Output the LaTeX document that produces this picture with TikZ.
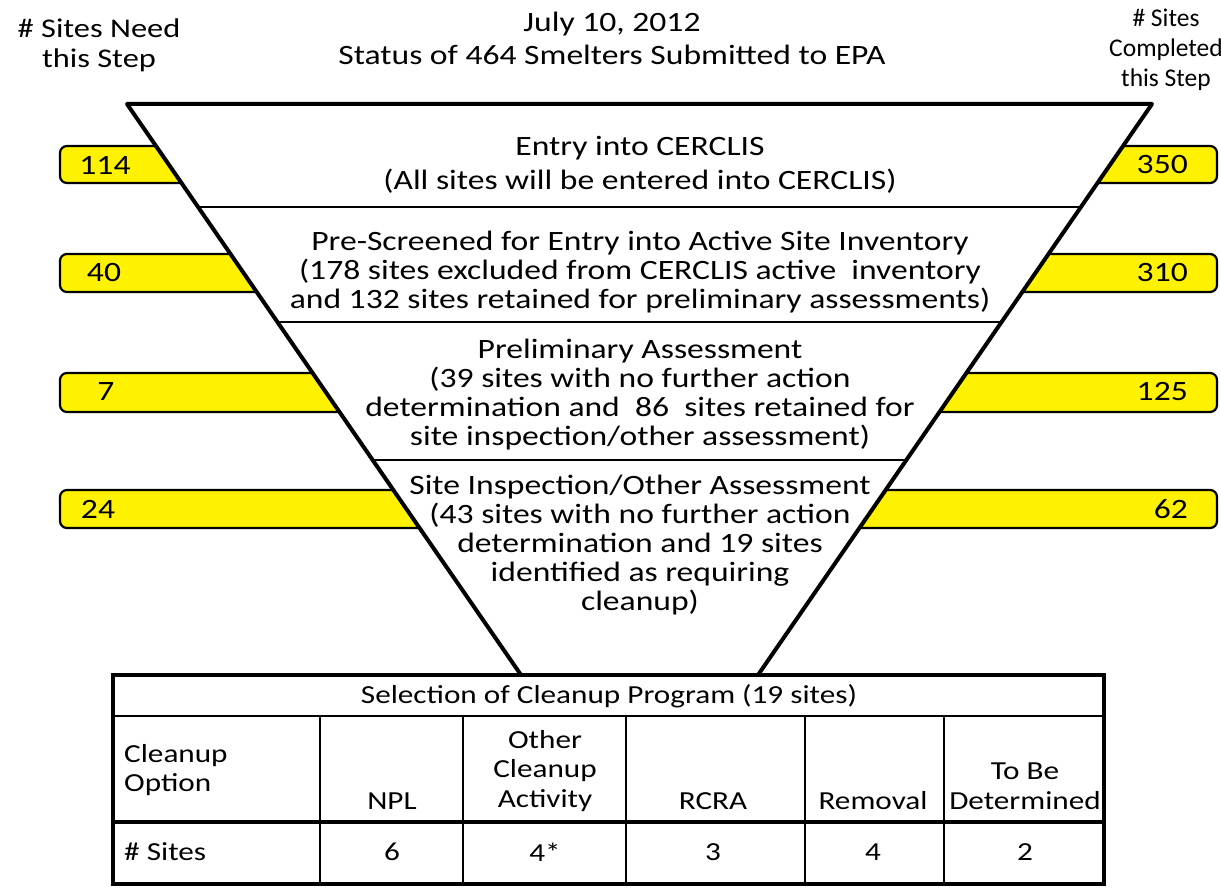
\documentclass[tikz,border=0pt]{standalone}
\usepackage{fontspec}
\setmainfont{Carlito}[FakeStretch=1.2]
\newfontfamily\plainf{Carlito}
\usetikzlibrary{calc}
\begin{document}
\begin{tikzpicture}[x=1pt,y=-1pt,
  txt/.style={inner sep=0pt,align=center,font=\fontsize{28}{29}\selectfont},
  ttxt/.style={inner sep=0pt,align=center,font=\fontsize{26}{29.5}\selectfont},
  num/.style={inner sep=0pt,font=\fontsize{28}{30}\selectfont},
  bar/.style={fill=yellow,draw=black,line width=2.2pt,rounded corners=7pt},
  funnel/.style={line width=4pt,line join=round},
  divider/.style={line width=2.2pt},
  tline/.style={line width=2.2pt},
  tthick/.style={line width=3.5pt}]
\useasboundingbox (0,0) rectangle (1221,888);
% yellow bars
\foreach \ya/\yb in {146/183,254/292,373/412,490/528}{
  \draw[bar] (640,\ya) -- (60,\ya) -- (60,\yb) -- (640,\yb);
  \draw[bar] (640,\ya) -- (1217,\ya) -- (1217,\yb) -- (640,\yb);
}
% funnel
\coordinate (TL) at (127,104);
\coordinate (TR) at (1152,104);
\coordinate (BL) at (521,675);
\coordinate (BR) at (758,675);
\fill[white] (TL) -- (TR) -- (BR) -- (BL) -- cycle;
\draw[funnel] (BL) -- (TL) -- (TR) -- (BR);
\foreach \t in {0.1804,0.3818,0.6235}{
  \draw[divider] ($(TL)!\t!(BL)$) -- ($(TR)!\t!(BR)$);
}
% titles
\node[txt,font=\fontsize{28}{33}\selectfont] (title) at (612,38) {July 10, 2012\\Status of 464 Smelters Submitted to EPA};
\node[txt,font=\fontsize{27}{30}\selectfont] (need) at (99,45) {\# Sites Need\\this Step};
\node[txt,font=\plainf\fontsize{25.5}{30}\selectfont] (done) at (1166,50) {\# Sites\\Completed\\this Step};
% funnel texts
\node[txt,font=\fontsize{28}{34}\selectfont] (s1) at (640,165) {Entry into CERCLIS\\(All sites will be entered into CERCLIS)};
\node[txt] (s2) at (640,272) {Pre-Screened for Entry into Active Site Inventory\\(178 sites excluded from CERCLIS active\ \ inventory\\and 132 sites retained for preliminary assessments)};
\node[txt] (s3) at (640,395) {Preliminary Assessment\\(39 sites with no further action\\determination and\ \ 86\ \ sites retained for\\site inspection/other assessment)};
\node[txt] (s4) at (640,545) {Site Inspection/Other Assessment\\(43 sites with no further action\\determination and 19 sites\\identified as requiring\\cleanup)};
% numbers
\node[num] (n1l) at (105,165) {114};
\node[num] (n2l) at (104,273) {40};
\node[num] (n3l) at (106,392) {7};
\node[num] (n4l) at (98,509) {24};
\node[num,anchor=east] (n1r) at (1188,165) {350};
\node[num,anchor=east] (n2r) at (1188,273) {310};
\node[num,anchor=east] (n3r) at (1188,392) {125};
\node[num,anchor=east] (n4r) at (1188,509) {62};
% table
\draw[tthick] (113,675) rectangle (1104,884);
\draw[tline] (113,716) -- (1104,716);
\draw[tthick] (113,822) -- (1104,822);
\foreach \x in {320,463,626,805,944}{
  \draw[tline] (\x,716) -- (\x,884);
}
\node[ttxt] (hdr) at (609,696) {Selection of Cleanup Program (19 sites)};
\node[ttxt,anchor=west,align=left] (opt) at (124,770) {Cleanup\\Option};
\node[ttxt] (npl) at (392,801) {NPL};
\node[ttxt] (oca) at (545,771) {Other\\Cleanup\\Activity};
\node[ttxt] (rcra) at (713,801) {RCRA};
\node[ttxt] (rem) at (873,801) {Removal};
\node[ttxt] (tbd) at (1025,786) {To Be\\Determined};
\node[ttxt,anchor=west] (sites) at (124,852) {\# Sites};
\node[ttxt] (v1) at (392,852) {6};
\node[ttxt] (v2) at (545,852) {4*};
\node[ttxt] (v3) at (713,852) {3};
\node[ttxt] (v4) at (873,852) {4};
\node[ttxt] (v5) at (1025,852) {2};
\end{tikzpicture}
\end{document}
